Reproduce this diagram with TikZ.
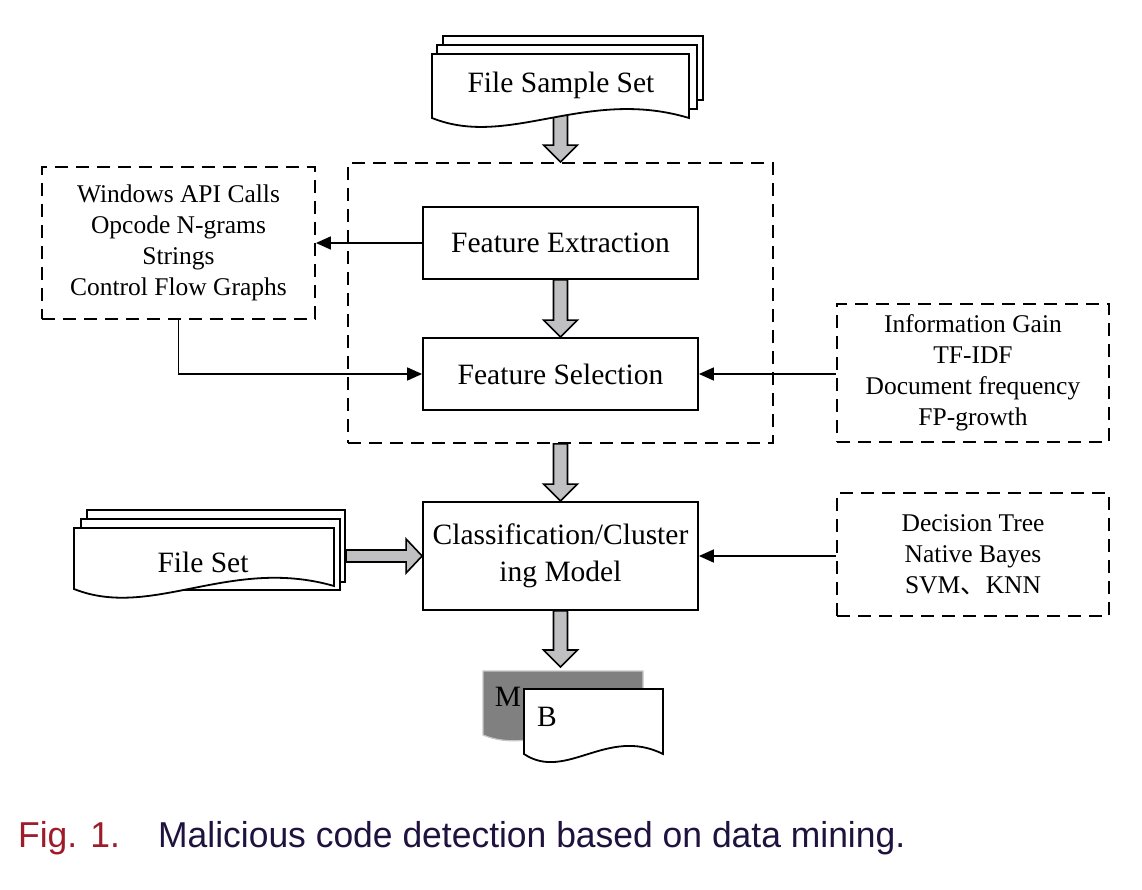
\documentclass[tikz,border=0pt]{standalone}
\usepackage{fontspec}
\setmainfont{Liberation Serif}
\newfontfamily\capfont[FakeStretch=0.985]{Liberation Sans}
\newfontfamily\cjkfont{Noto Sans CJK SC}
\usetikzlibrary{calc,arrows.meta}
\definecolor{figred}{RGB}{158,28,42}
\definecolor{capnavy}{RGB}{32,18,62}
\definecolor{arrowgray}{RGB}{192,192,194}
\tikzset{
  solidbox/.style={draw, line width=1.8pt, fill=white, inner sep=0pt, align=center,
    font=\fontsize{29.5}{37}\selectfont},
  dashbox/.style={draw, line width=1.8pt, dash pattern=on 13pt off 8pt, inner sep=0pt, align=center,
    font=\fontsize{25.5}{31}\selectfont},
  bigdash/.style={draw, line width=1.8pt, dash pattern=on 13pt off 8pt, inner sep=0pt},
  garrow/.style={draw=black, line width=1.6pt, fill=arrowgray, line join=miter},
  conn/.style={line width=1.6pt, -{Triangle[length=15pt,width=13pt]}},
  sheet/.style={draw, line width=1.8pt, fill=white, line join=miter},
  doctext/.style={font=\fontsize{29.5}{37}\selectfont, inner sep=0pt, anchor=base},
}
\newcommand{\gdown}[2]{\draw[garrow] ($(#2|-#1)+(-7,0)$) -- ($(#2)+(-7,-17)$) -- ($(#2)+(-17,-17)$) -- (#2) -- ($(#2)+(17,-17)$) -- ($(#2)+(7,-17)$) -- ($(#2|-#1)+(7,0)$) -- cycle;}
\newcommand{\gright}[2]{\draw[garrow] ($(#1|-#2)+(0,-6)$) -- ($(#2)+(-16,-6)$) -- ($(#2)+(-16,-17)$) -- (#2) -- ($(#2)+(-16,17)$) -- ($(#2)+(-16,6)$) -- ($(#1|-#2)+(0,6)$) -- cycle;}
\begin{document}
\begin{tikzpicture}[x=1pt,y=-1pt]
\useasboundingbox (0,0) rectangle (1142,890);

% ---------- File Sample Set (stacked documents)
\draw[sheet] (443,36) rectangle (703,100);
\draw[sheet] (437,45) rectangle (697,109);
\coordinate (fssbot) at (560.5,100);
\node[bigdash, minimum width=425pt, minimum height=280pt] (big) at (560.5,303) {};
\gdown{fssbot}{big.north}
\draw[sheet] (432,54) -- (689,54) -- (689,118) .. controls (586,87) and (509,149) .. (432,118) -- cycle;
\node[doctext] (fss) at (561,93) {File Sample Set};

% ---------- main boxes
\node[solidbox, minimum width=275pt, minimum height=72pt] (fe) at (560.5,243) {Feature Extraction};
\node[solidbox, minimum width=275pt, minimum height=72pt] (fs) at (560.5,374) {Feature Selection};
\node[solidbox, minimum width=275pt, minimum height=108pt] (cls) at (560.5,556) {Classification/Cluster\\ing Model};

\gdown{fe.south}{fs.north}
\gdown{big.south}{cls.north}

% ---------- dashed side boxes
\node[dashbox, minimum width=273pt, minimum height=152pt] (left) at (178.5,243)
  {Windows API Calls\\Opcode N-grams\\Strings\\Control Flow Graphs};
\node[dashbox, minimum width=272pt, minimum height=138pt] (right1) at (973,373)
  {Information Gain\\TF-IDF\\Document frequency\\FP-growth};
\node[dashbox, minimum width=272pt, minimum height=123pt] (right2) at (973,554.5)
  {Decision Tree\\Native Bayes\\SVM{\cjkfont 、}KNN};

% ---------- connectors
\draw[conn] (fe.west) -- (left.east|-fe.west);
\draw[conn] (left.south) |- (fs.west);
\draw[conn] (right1.west|-fs.east) -- (fs.east);
\draw[conn] (right2.west|-cls.east) -- (cls.east);

% ---------- File Set (stacked documents)
\draw[sheet] (87,510) rectangle (345,582);
\draw[sheet] (81,519) rectangle (340,590);
\draw[sheet] (74,528) -- (334,528) -- (334,586) .. controls (230,556) and (152,620) .. (74,589) -- cycle;
\node[doctext] (fset) at (203,572) {File Set};
\coordinate (fsetend) at (346,556);
\gright{fsetend}{cls.west}

% ---------- output documents M / B
\coordinate (mtop) at (560.5,667);
\gdown{cls.south}{mtop}
\draw[fill=black!50, draw=black!22, line width=1.2pt] (483,671) -- (643,671) -- (643,735) .. controls (579,715) and (531,755) .. (483,735) -- cycle;
\node[doctext] (mlabel) at (508,706) {M};
\draw[sheet] (524,689) -- (663,689) -- (663,754) .. controls (607,726) and (566,782) .. (524,754) -- cycle;
\node[doctext] (blabel) at (547,726) {B};

% ---------- caption
\node[anchor=base west, inner sep=0pt, text=figred, font=\capfont\fontsize{36}{40}\selectfont] (figlab) at (18,847) {Fig. 1.};
\node[anchor=base west, inner sep=0pt, text=capnavy, font=\capfont\fontsize{36}{40}\selectfont] (captext) at (158,847) {Malicious code detection based on data mining.};
\end{tikzpicture}
\end{document}
